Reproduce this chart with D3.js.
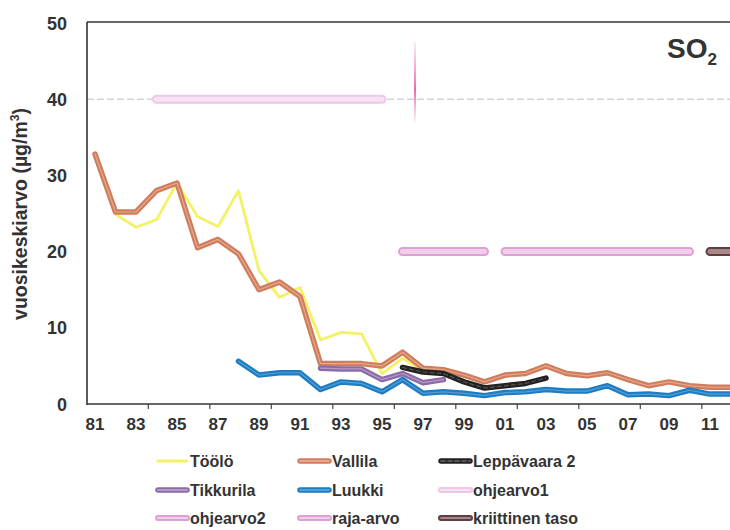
<!DOCTYPE html>
<html><head><meta charset="utf-8">
<script src="https://cdn.jsdelivr.net/npm/d3@7"></script>
<style>
html,body{margin:0;padding:0;background:#fff;}
svg text{font-family:"Liberation Sans",Arial,sans-serif;font-weight:bold;fill:#333;}
</style></head>
<body><svg id="c" width="730" height="530"></svg>
<script>
// ---- data ----
const toolo = {start: 1981, values: [32.8, 24.9, 23.2, 24.2, 29.0, 24.6, 23.3, 28.0, 17.5, 14.0, 15.3, 8.4, 9.4, 9.2, 4.0, 6.0, 4.4]};
const vallila = {start: 1981, values: [32.8, 25.2, 25.2, 28.0, 29.0, 20.5, 21.6, 19.7, 15.0, 16.0, 14.1, 5.3, 5.3, 5.3, 5.0, 6.8, 4.7, 4.5, 3.8, 2.9, 3.8, 4.0, 5.0, 4.0, 3.7, 4.1, 3.2, 2.4, 2.9, 2.4, 2.2, 2.2]};
const tikkurila = {start: 1992, values: [4.7, 4.6, 4.6, 3.2, 4.0, 2.8, 3.2]};
const luukki = {start: 1988, values: [5.6, 3.8, 4.1, 4.1, 1.9, 2.9, 2.7, 1.6, 3.2, 1.4, 1.6, 1.4, 1.1, 1.5, 1.6, 1.9, 1.7, 1.7, 2.4, 1.2, 1.3, 1.1, 1.8, 1.3, 1.3]};
const leppavaara = {start: 1996, values: [4.8, 4.2, 4.0, 2.9, 2.1, 2.4, 2.7, 3.4]};
const ohjearvo1 = {value: 40, from: 1984, to: 1995};
const ohjearvo2 = {value: 20, from: 1996, to: 2000};
const rajaArvo = {value: 20, from: 2001, to: 2010};
const kriittinen = {value: 20, from: 2011, to: 2013};
const xTickLabels = ["81","83","85","87","89","91","93","95","97","99","01","03","05","07","09","11"];
const yTicks = [0, 10, 20, 30, 40, 50];
const legendNames = ["Töölö","Vallila","Leppävaara 2","Tikkurila","Luukki","ohjearvo1","ohjearvo2","raja-arvo","kriittinen taso"];

// ---- styles ----
const styles = {
  "Töölö": {outer: "#f3f266", ow: 2.8},
  "Vallila": {outer: "#cf7d5c", ow: 5.5, inner: "#e6a88a", iw: 1.2},
  "Leppävaara 2": {outer: "#222", ow: 5.5, inner: "#555", iw: 1.2, dash: "4,3"},
  "Tikkurila": {outer: "#8a6ba6", ow: 5.5, inner: "#b49acb", iw: 1.2},
  "Luukki": {outer: "#1f7cc0", ow: 5.5, inner: "#4da0da", iw: 1.2},
  "ohjearvo1": {outer: "#eec6e6", ow: 9, inner: "#f7e2f3", iw: 5},
  "ohjearvo2": {outer: "#dea0d4", ow: 9, inner: "#f1cfea", iw: 5},
  "raja-arvo": {outer: "#dea0d4", ow: 9, inner: "#f1cfea", iw: 5},
  "kriittinen taso": {outer: "#5e3f40", ow: 9, inner: "#a8878a", iw: 5}
};

const svg = d3.select("#c");
const x = d3.scaleLinear().domain([1981, 2011]).range([95, 710]);
const y = d3.scaleLinear().domain([0, 50]).range([404, 23]);
const X0 = 87, X1 = 745;

// faint dashed guide at 40
svg.append("line").attr("x1", X0).attr("x2", X1).attr("y1", y(40)).attr("y2", y(40))
  .attr("stroke", "#d4d4d4").attr("stroke-width", 1.5).attr("stroke-dasharray", "7,3");
// faint vertical mark
const grad = svg.append("defs").append("linearGradient").attr("id", "vg").attr("x1", 0).attr("x2", 0).attr("y1", 0).attr("y2", 1);
grad.append("stop").attr("offset", "0%").attr("stop-color", "#ec7fbd").attr("stop-opacity", 0.15);
grad.append("stop").attr("offset", "60%").attr("stop-color", "#e8589f").attr("stop-opacity", 0.9);
grad.append("stop").attr("offset", "100%").attr("stop-color", "#ec7fbd").attr("stop-opacity", 0.1);
svg.append("rect").attr("x", 414).attr("width", 2).attr("y", y(47.5)).attr("height", y(37) - y(47.5))
  .attr("fill", "url(#vg)");

function drawStyled(g, pts, st, cap) {
  const line = d3.line().x(d => d[0]).y(d => d[1]);
  g.append("path").attr("d", line(pts)).attr("fill", "none").attr("stroke", st.outer)
    .attr("stroke-width", st.ow).attr("stroke-linejoin", "round").attr("stroke-linecap", cap || "round");
  if (st.inner) {
    const p = g.append("path").attr("d", line(pts)).attr("fill", "none").attr("stroke", st.inner)
      .attr("stroke-width", st.iw).attr("stroke-linejoin", "round").attr("stroke-linecap", cap || "round");
    if (st.dash) p.attr("stroke-dasharray", st.dash);
  }
}

// reference bars
const refs = [["ohjearvo1", ohjearvo1], ["ohjearvo2", ohjearvo2], ["raja-arvo", rajaArvo], ["kriittinen taso", kriittinen]];
refs.forEach(([n, r]) => {
  drawStyled(svg, [[x(r.from), y(r.value)], [x(r.to), y(r.value)]], styles[n]);
});

// series
const series = [["Töölö", toolo], ["Vallila", vallila], ["Tikkurila", tikkurila], ["Luukki", luukki], ["Leppävaara 2", leppavaara]];
series.forEach(([n, s]) => {
  const pts = s.values.map((v, i) => [x(s.start + i), y(v)]);
  drawStyled(svg, pts, styles[n]);
});

// frame / axes
svg.append("line").attr("x1", X0).attr("x2", X0).attr("y1", 22).attr("y2", 405).attr("stroke", "#333").attr("stroke-width", 1.6);
svg.append("line").attr("x1", X0).attr("x2", X1).attr("y1", 22).attr("y2", 22).attr("stroke", "#333").attr("stroke-width", 1.4);
svg.append("line").attr("x1", X0).attr("x2", X1).attr("y1", 404).attr("y2", 404).attr("stroke", "#333").attr("stroke-width", 1.6);

// x ticks (every 3 categories, at band boundaries)
const tickYears = d3.range(1983.6, 2013, 3);
svg.selectAll(".xt").data(tickYears).enter().append("line")
  .attr("x1", d => x(d)).attr("x2", d => x(d)).attr("y1", 404).attr("y2", 409)
  .attr("stroke", "#444").attr("stroke-width", 1.2);

// x labels
svg.selectAll(".xl").data(xTickLabels).enter().append("text")
  .attr("x", (d, i) => x(1981 + 2 * i)).attr("y", 430)
  .attr("text-anchor", "middle").attr("font-size", 17).text(d => d);

// y labels
svg.selectAll(".yl").data(yTicks).enter().append("text")
  .attr("x", 67).attr("y", d => y(d) + 6.5)
  .attr("text-anchor", "end").attr("font-size", 18).text(d => d);

// y title
const yt = svg.append("text").attr("transform", "translate(27,214) rotate(-90)")
  .attr("text-anchor", "middle").attr("font-size", 19.5);
yt.append("tspan").text("vuosikeskiarvo (µg/m");
yt.append("tspan").attr("font-size", 12).attr("dy", -8).text("3");
yt.append("tspan").attr("dy", 8).text(")");

// SO2 title
const t = svg.append("text").attr("x", 667).attr("y", 58).attr("font-size", 28);
t.append("tspan").text("SO");
t.append("tspan").attr("font-size", 17).attr("dy", 7).text("2");

// legend
const colX = [155, 297, 438];
const rowY = [461, 490, 518];
legendNames.forEach((n, i) => {
  const cx = colX[i % 3], cy = rowY[Math.floor(i / 3)];
  const st = styles[n];
  const g = svg.append("g");
  const s2 = {outer: st.outer, ow: Math.min(st.ow, 6), inner: st.inner ? st.inner : null, iw: st.inner ? 2 : 0, dash: st.dash};
  if (n === "Töölö") s2.ow = 3;
  drawStyled(g, [[cx + 3, cy], [cx + 32, cy]], s2);
  g.append("text").attr("x", cx + 35).attr("y", cy + 6).attr("font-size", 16).text(n);
});
</script></body></html>
